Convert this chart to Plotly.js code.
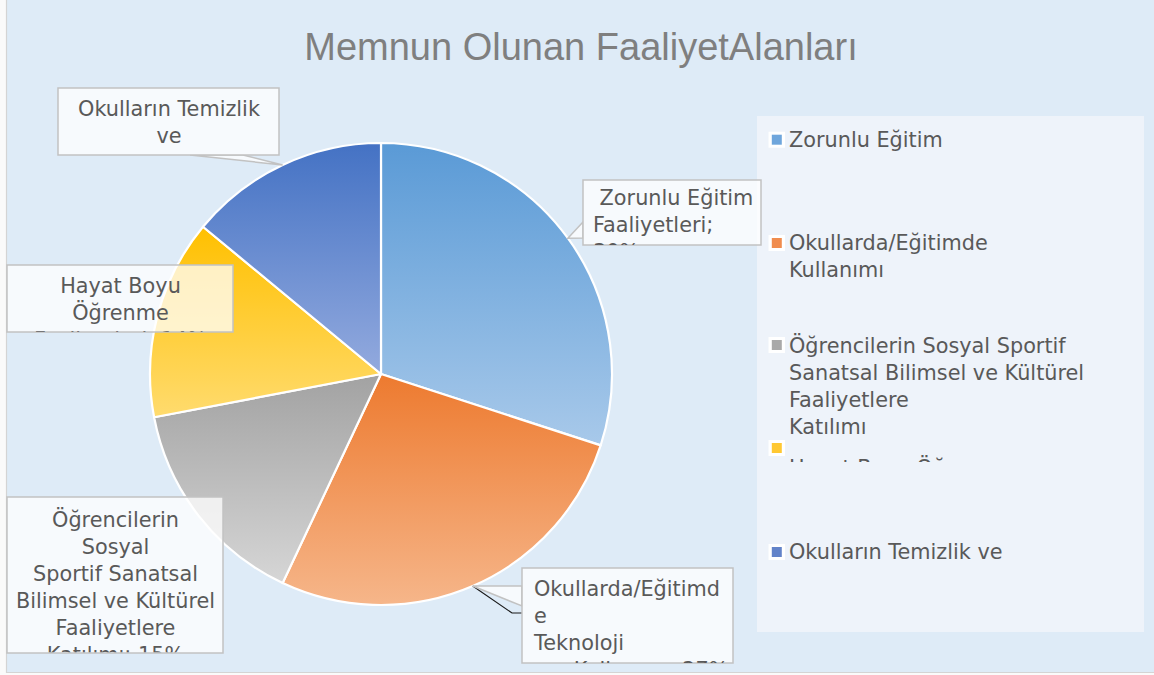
<!DOCTYPE html>
<html>
<head>
<meta charset="utf-8">
<script src="https://cdn.plot.ly/plotly-3.0.1.min.js"></script>
<style>
html,body{margin:0;padding:0;background:#ffffff;}
#chart{width:1154px;height:675px;}
</style>
</head>
<body>
<div id="chart"></div>
<script>
// ---------------- DATA ----------------
const categories = [
  'Zorunlu Eğitim Faaliyetleri',
  'Okullarda/Eğitimde Teknoloji Kullanımı',
  'Öğrencilerin Sosyal Sportif Sanatsal Bilimsel ve Kültürel Faaliyetlere Katılımı',
  'Hayat Boyu Öğrenme Faaliyetleri',
  'Okulların Temizlik ve Hijyen Faaliyetleri'
];
const values = [30, 27, 15, 14, 14];
const chartTitle = 'Memnun Olunan FaaliyetAlanları';
const legendText = [
  'Zorunlu Eğitim',
  'Okullarda/Eğitimde<br>Kullanımı',
  'Öğrencilerin Sosyal Sportif<br>Sanatsal Bilimsel ve Kültürel<br>Faaliyetlere<br>Katılımı',
  'Hayat Boyu Öğrenme',
  'Okulların Temizlik ve'
];
const calloutText = [
  '\u00a0Zorunlu Eğitim<br>Faaliyetleri;<br>' + values[0] + '%',
  'Okullarda/Eğitimd<br>e<br>Teknoloji<br>\u00a0\u00a0\u00a0\u00a0\u00a0\u00a0Kullanımı; ' + values[1] + '%',
  'Öğrencilerin<br>Sosyal<br>Sportif Sanatsal<br>Bilimsel ve Kültürel<br>Faaliyetlere<br>Katılımı; ' + values[2] + '%',
  'Hayat Boyu<br>Öğrenme<br>Faaliyetleri; ' + values[3] + '%',
  'Okulların Temizlik<br>ve'
];
const topColors    = ['#5a9ad6', '#ed7a2f', '#a2a2a2', '#ffc000', '#4472c4'];
const bottomColors = ['#a8c9ea', '#f6b68a', '#d6d6d6', '#ffdb6e', '#93aade'];
const legendColors = ['#6fa6dc', '#f08c4e', '#a9a9a9', '#ffc832', '#6283c9'];

// ---------------- LAYOUT (pixels) ----------------
const W = 1154, H = 675;
const X = px => px / W;
const Y = py => 1 - py / H;
const pie = {cx: 381, cy: 374, r: 231};
const FONT = 'DejaVu Sans';
const FS = 20.8;
const TXT = '#595959';

// callout boxes in slice order
const boxes = [
  {L: 583, T: 180, R: 761, B: 245, textLeft: 593, textTop: 185.5, align: 'left',
   wedge: [[583, 222], [583, 238]]},
  {L: 522, T: 568, R: 733, B: 663, textLeft: 533, textTop: 576.5, align: 'left',
   wedge: [[522, 586], [522, 606]], leader: [[512, 613], [522, 613]]},
  {L: 7, T: 497, R: 223, B: 653, textLeft: 8.5, textTop: 507.3, align: 'center'},
  {L: 7, T: 265, R: 233, B: 332, textLeft: 8.5, textTop: 273.8, align: 'center'},
  {L: 58, T: 88, R: 279, B: 155, textLeft: 59.5, textTop: 96.6, align: 'center',
   wedge: [[190, 155], [243, 155]]}
];
const legendY = [139.7, 243, 345, 448, 552];
// legend text tops (null = aligned with marker) and clip bottoms
const legendTextTop = [null, null, null, 455, null];
const legendClip = [null, null, null, 462, null];

// slice mid-angle tips on the pie edge, from the data
const total = values.reduce((a, b) => a + b, 0);
let cum = 0;
const tips = values.map(v => {
  const a = 2 * Math.PI * (cum + v / 2) / total;
  cum += v;
  return [pie.cx + pie.r * Math.sin(a), pie.cy - pie.r * Math.cos(a)];
});

const shapes = [];
// chart area frame
shapes.push({type: 'rect', xref: 'paper', yref: 'paper', layer: 'below',
  x0: X(6.5), x1: X(1160), y0: Y(672.5), y1: Y(-5),
  fillcolor: '#deebf7', line: {color: '#d4d4d4', width: 1.2}});
// legend panel
shapes.push({type: 'rect', xref: 'paper', yref: 'paper', layer: 'below',
  x0: X(757), x1: X(1144), y0: Y(632), y1: Y(116),
  fillcolor: '#eef3fa', line: {width: 0}});
// legend markers
legendY.forEach((cy, i) => {
  shapes.push({type: 'rect', xref: 'paper', yref: 'paper', layer: 'above',
    x0: X(768.5), x1: X(785), y0: Y(cy + 8), y1: Y(cy - 8),
    fillcolor: '#ffffff', line: {width: 0}});
  shapes.push({type: 'rect', xref: 'paper', yref: 'paper', layer: 'above',
    x0: X(771.8), x1: X(781.8), y0: Y(cy + 5), y1: Y(cy - 5),
    fillcolor: legendColors[i], line: {width: 0}});
});
// callouts
const P = (x, y) => X(x).toFixed(5) + ',' + Y(y).toFixed(5);
boxes.forEach((b, i) => {
  const t = tips[i];
  if (b.leader) {
    shapes.push({type: 'path', xref: 'paper', yref: 'paper', layer: 'above',
      path: 'M' + P(t[0], t[1]) + ' L' + P(b.leader[0][0], b.leader[0][1]) + ' L' + P(b.leader[1][0], b.leader[1][1]),
      line: {color: '#1a1a1a', width: 1.2}});
  }
  if (b.wedge) {
    shapes.push({type: 'path', xref: 'paper', yref: 'paper', layer: 'above',
      path: 'M' + P(b.wedge[0][0], b.wedge[0][1]) + ' L' + P(t[0], t[1]) + ' L' + P(b.wedge[1][0], b.wedge[1][1]) + ' Z',
      fillcolor: 'rgba(255,255,255,0.75)', line: {color: '#c2c2c2', width: 1.5}});
  }
  shapes.push({type: 'rect', xref: 'paper', yref: 'paper', layer: 'above',
    x0: X(b.L), x1: X(b.R), y0: Y(b.B), y1: Y(b.T),
    fillcolor: 'rgba(255,255,255,0.75)', line: {color: '#c2c2c2', width: 1.5}});
});

const annotations = [];
boxes.forEach((b, i) => {
  const clipR = b.R - 1.5, clipB = b.B - 0.5;
  annotations.push({xref: 'paper', yref: 'paper', x: X(b.textLeft), y: Y(b.textTop),
    xanchor: 'left', yanchor: 'top', showarrow: false, text: calloutText[i],
    align: b.align, valign: 'top', width: clipR - b.textLeft, height: clipB - b.textTop,
    borderpad: 0, borderwidth: 0, font: {family: FONT, size: FS, color: TXT}});
});
legendText.forEach((txt, i) => {
  const top = legendTextTop[i] !== null ? legendTextTop[i] : legendY[i] - 11.7;
  const h = legendClip[i] !== null ? legendClip[i] - top : 130;
  annotations.push({xref: 'paper', yref: 'paper', x: X(789), y: Y(top),
    xanchor: 'left', yanchor: 'top', showarrow: false, text: txt,
    align: 'left', valign: 'top', width: 350, height: h,
    borderpad: 0, borderwidth: 0, font: {family: FONT, size: FS, color: TXT}});
});

const data = [{
  type: 'pie',
  labels: categories,
  values: values,
  sort: false,
  direction: 'clockwise',
  rotation: 0,
  textinfo: 'none',
  hoverinfo: 'label+percent',
  showlegend: false,
  marker: {colors: topColors, line: {color: '#ffffff', width: 2.2}},
  domain: {x: [X(pie.cx - pie.r), X(pie.cx + pie.r)], y: [Y(pie.cy + pie.r), Y(pie.cy - pie.r)]}
}];

const layout = {
  width: W, height: H,
  margin: {l: 0, r: 0, t: 0, b: 0},
  paper_bgcolor: '#fafafa',
  showlegend: false,
  title: {text: chartTitle, x: X(581), xanchor: 'center', y: Y(47), yanchor: 'middle',
    font: {family: 'Liberation Sans, Arial, sans-serif', size: 38, color: '#7f7f7f'}},
  shapes: shapes,
  annotations: annotations
};

Plotly.newPlot('chart', data, layout, {displayModeBar: false, staticPlot: true}).then(gd => {
  const ns = 'http://www.w3.org/2000/svg';
  const svg = gd.querySelector('svg.main-svg');
  let defs = svg.querySelector('defs');
  if (!defs) { defs = document.createElementNS(ns, 'defs'); svg.insertBefore(defs, svg.firstChild); }
  topColors.forEach((c, i) => {
    const g = document.createElementNS(ns, 'linearGradient');
    g.setAttribute('id', 'pieGrad' + i);
    g.setAttribute('x1', '0'); g.setAttribute('y1', '0');
    g.setAttribute('x2', '0'); g.setAttribute('y2', '1');
    [[0, c], [1, bottomColors[i]]].forEach(s => {
      const st = document.createElementNS(ns, 'stop');
      st.setAttribute('offset', s[0]);
      st.setAttribute('stop-color', s[1]);
      g.appendChild(st);
    });
    defs.appendChild(g);
  });
  gd.querySelectorAll('.pielayer .slice path.surface').forEach((p, i) => {
    p.style.fill = 'url(#pieGrad' + i + ')';
    p.style.fillOpacity = '1';
  });
});
</script>
</body>
</html>
